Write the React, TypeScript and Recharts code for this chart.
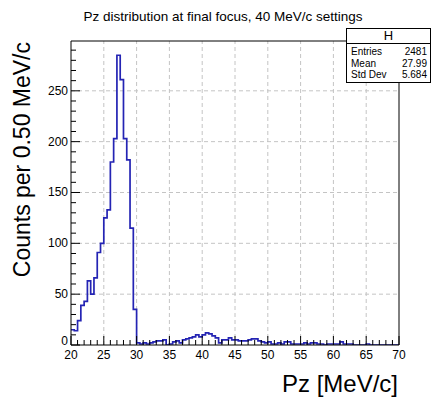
import { LineChart, Line, XAxis, YAxis, ReferenceLine } from 'recharts';

// histogram: 100 bins of 0.50 MeV/c from 20 to 70
const binStart = 20;
const binWidth = 0.5;
const counts = [
    15, 14, 24, 39, 43, 63, 50, 66, 91, 100,
    125, 133, 180, 203, 285, 261, 203, 182, 115, 35,
    2, 1, 2, 1, 2, 3, 4, 4, 5, 0,
    1, 3, 4, 2, 5, 6, 7, 8, 10, 8,
    10, 12, 11, 9, 7, 2, 5, 5, 7, 5,
    5, 4, 4, 4, 5, 6, 6, 4, 3, 2,
    3, 1, 1, 2, 1, 3, 3, 1, 1, 1,
    1, 2, 1, 2, 2, 1, 1, 0, 1, 1,
    1, 1, 3, 1, 1, 1, 0, 0, 0, 0,
    1, 0, 0, 0, 0, 0, 0, 0, 0, 0
];

const xMajorTicks = [20, 25, 30, 35, 40, 45, 50, 55, 60, 65, 70];
const yMajorTicks = [0, 50, 100, 150, 200, 250];
const xGridLines = [25, 30, 35, 40, 45, 50, 55, 60, 65];
const yGridLines = [50, 100, 150, 200, 250];
const statsRows = [
    ['Entries', '2481'],
    ['Mean', '27.99'],
    ['Std Dev', '5.684']
];

const xDomain = [20, 70];
const yDomain = [0, 299];

// minor ticks every 1 on x, every 10 on y
const xTicks: number[] = [];
for (let v = xDomain[0]; v <= xDomain[1]; v++) xTicks.push(v);
const yTicks: number[] = [];
for (let v = 0; v <= 290; v += 10) yTicks.push(v);

const data = counts.map((c, i) => ({ x: binStart + i * binWidth, y: c }));
data.push({ x: binStart + counts.length * binWidth, y: counts[counts.length - 1] });

const font = '"Liberation Sans", Arial, Helvetica, sans-serif';

function XTick(props: any) {
    const { x, y, payload } = props;
    const major = xMajorTicks.includes(payload.value);
    return (
        <g>
            <line x1={x} x2={x} y1={y} y2={y - (major ? 9 : 5)} stroke="#000" />
            {major && (
                <text x={x} y={y + 14} textAnchor="middle" fontSize={12} fill="#000" fontFamily={font}>
                    {payload.value}
                </text>
            )}
        </g>
    );
}

function YTick(props: any) {
    const { x, y, payload } = props;
    const major = yMajorTicks.includes(payload.value);
    // the 0 label sits a little higher so it clears the x labels
    const dy = payload.value === 0 ? 0 : 4;
    return (
        <g>
            <line x1={x} x2={x + (major ? 9 : 5)} y1={y} y2={y} stroke="#000" />
            {major && (
                <text x={x - 3} y={y + dy} textAnchor="end" fontSize={12} fill="#000" fontFamily={font}>
                    {payload.value}
                </text>
            )}
        </g>
    );
}

export default function App() {
    return (
        <div style={{ position: 'absolute', left: 0, top: 0, width: 431, height: 399, background: '#fff', fontFamily: font }}>
            <LineChart width={431} height={399} data={data} margin={{ top: 40, right: 31, bottom: 24, left: 31 }}>
                {xGridLines.map((v) => (
                    <ReferenceLine key={'gx' + v} x={v} stroke="#c4c4c4" strokeDasharray="4 3" />
                ))}
                {yGridLines.map((v) => (
                    <ReferenceLine key={'gy' + v} y={v} stroke="#c4c4c4" strokeDasharray="4 3" />
                ))}
                <XAxis
                    type="number"
                    dataKey="x"
                    domain={xDomain}
                    ticks={xTicks}
                    interval={0}
                    height={30}
                    tickSize={0}
                    tickMargin={0}
                    tickLine={false}
                    axisLine={{ stroke: '#000' }}
                    tick={<XTick />}
                    allowDataOverflow
                />
                <XAxis
                    xAxisId="top"
                    orientation="top"
                    type="number"
                    domain={xDomain}
                    height={1}
                    tick={false}
                    tickLine={false}
                    axisLine={{ stroke: '#000' }}
                />
                <YAxis
                    type="number"
                    domain={yDomain}
                    ticks={yTicks}
                    interval={0}
                    width={40}
                    tickSize={0}
                    tickMargin={0}
                    tickLine={false}
                    axisLine={{ stroke: '#000' }}
                    tick={<YTick />}
                    allowDataOverflow
                />
                <YAxis
                    yAxisId="right"
                    orientation="right"
                    type="number"
                    domain={yDomain}
                    width={1}
                    tick={false}
                    tickLine={false}
                    axisLine={{ stroke: '#000' }}
                />
                <Line
                    type="stepAfter"
                    dataKey="y"
                    stroke="#2424b4"
                    strokeWidth={1.7}
                    dot={false}
                    isAnimationActive={false}
                />
            </LineChart>

            <svg width={431} height={399} style={{ position: 'absolute', left: 0, top: 0, pointerEvents: 'none' }}>
                <text x={223} y={21} textAnchor="middle" fontSize={13.5} fill="#000" fontFamily={font}>
                    Pz distribution at final focus, 40 MeV/c settings
                </text>
                <text x={30} y={42} transform="rotate(-90, 30, 42)" textAnchor="end" fontSize={23} fill="#000" fontFamily={font}>
                    Counts per 0.50 MeV/c
                </text>
                <text x={398} y={392} textAnchor="end" fontSize={24} fill="#000" fontFamily={font}>
                    Pz [MeV/c]
                </text>
            </svg>

            <div style={{ position: 'absolute', left: 346, top: 28, width: 83, border: '1px solid #000', background: '#fff', color: '#000' }}>
                <div style={{ height: 14, lineHeight: '14px', textAlign: 'center', fontSize: 13, borderBottom: '1px solid #000' }}>H</div>
                <div style={{ paddingTop: 2, paddingBottom: 1 }}>
                    {statsRows.map(([label, value]) => (
                        <div key={label} style={{ display: 'flex', justifyContent: 'space-between', height: 11.5, lineHeight: '11.5px', fontSize: 10, padding: '0 3px 0 4px' }}>
                            <span>{label}</span>
                            <span>{value}</span>
                        </div>
                    ))}
                </div>
            </div>
        </div>
    );
}
